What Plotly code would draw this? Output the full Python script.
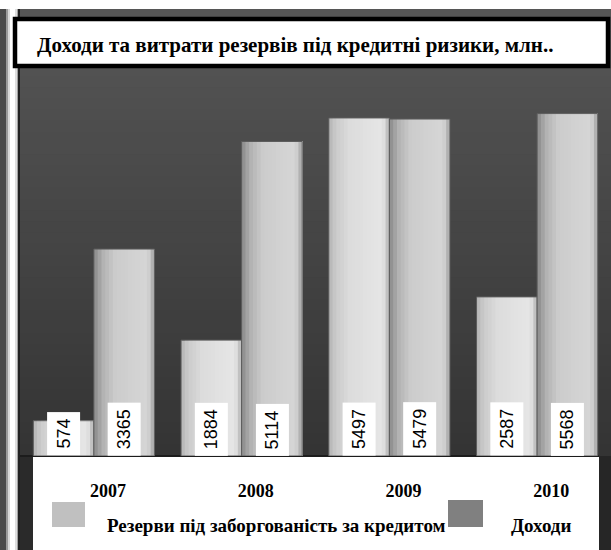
import plotly.graph_objects as go

# ---- data ----
years = ["2007", "2008", "2009", "2010"]
reserves = [574, 1884, 5497, 2587]
income = [3365, 5114, 5479, 5568]
series_names = ["Резерви під заборгованість за кредитом", "Доходи"]
legend_colors = ["#c0c0c0", "#808080"]
title_text = "Доходи та витрати резервів під кредитні ризики, млн.."

W, H = 611, 550
SERIF = "Liberation Serif, Times New Roman, serif"
SANS = "Liberation Sans, Arial, sans-serif"


def px(x):
    return x / W


def py(y):
    return 1 - y / H


def hex_mix(c1, c2, t):
    a = [int(c1[i:i + 2], 16) for i in (1, 3, 5)]
    b = [int(c2[i:i + 2], 16) for i in (1, 3, 5)]
    return "#%02x%02x%02x" % tuple(round(a[i] + (b[i] - a[i]) * t) for i in range(3))


def grad(stops, t):
    for (t0, c0), (t1, c1) in zip(stops, stops[1:]):
        if t <= t1:
            return hex_mix(c0, c1, (t - t0) / (t1 - t0) if t1 > t0 else 0)
    return stops[-1][1]


# horizontal shading of the bars, left edge to right edge
bar_stops = [
    [(0, "#b4b4b4"), (0.12, "#cbcbcb"), (0.35, "#dcdcdc"), (0.88, "#e6e6e6"), (0.95, "#d2d2d2"), (1, "#a6a6a6")],
    [(0, "#8a8a8a"), (0.15, "#b2b2b2"), (0.35, "#cccccc"), (0.88, "#d6d6d6"), (0.95, "#c2c2c2"), (1, "#969696")],
]

BAR_W = 0.41
N_STRIPS = 16
xs = list(range(len(years)))

fig = go.Figure()

for s, values in enumerate([reserves, income]):
    base = -BAR_W if s == 0 else 0.0
    for k in range(N_STRIPS):
        t = k / N_STRIPS
        fig.add_trace(go.Bar(
            x=xs, y=values,
            offset=base + t * BAR_W, width=BAR_W * (1 - t),
            marker=dict(color=grad(bar_stops[s], t + 0.5 / N_STRIPS), line=dict(width=0)),
            showlegend=False, hoverinfo="skip",
        ))
    # outline of each bar
    fig.add_trace(go.Bar(
        x=xs, y=values, offset=base, width=BAR_W,
        marker=dict(color="rgba(0,0,0,0)", line=dict(color="#5c5c5c", width=1)),
        name=series_names[s], showlegend=False,
        hovertemplate="%{y}<extra>" + series_names[s] + "</extra>",
    ))

# value labels in white boxes at the foot of each bar
annotations = []
for s, values in enumerate([reserves, income]):
    centre = -BAR_W / 2 if s == 0 else BAR_W / 2
    for i, v in enumerate(values):
        annotations.append(dict(
            x=i + centre, y=0, xref="x", yref="y",
            text=str(v), textangle=-90, showarrow=False,
            xanchor="center", yanchor="bottom",
            font=dict(family=SANS, size=18, color="#000000"),
            bgcolor="#ffffff", borderpad=6,
        ))

# title
annotations.append(dict(
    x=px(35), y=py(45), xref="paper", yref="paper",
    text="<b>" + title_text + "</b>", showarrow=False,
    xanchor="left", yanchor="middle",
    font=dict(family=SERIF, size=21, color="#000000"),
))

# legend texts
legend_text_x = [105, 509]
for s in range(2):
    annotations.append(dict(
        x=px(legend_text_x[s]), y=py(525), xref="paper", yref="paper",
        text="<b>" + series_names[s] + "</b>", showarrow=False,
        xanchor="left", yanchor="middle",
        font=dict(family=SERIF, size=19, color="#000000"),
    ))

shapes = []


def rect(x0, y0, x1, y1, fill, line_color=None, line_width=0, layer="below"):
    shapes.append(dict(
        type="rect", xref="paper", yref="paper",
        x0=px(x0), x1=px(x1), y0=py(y1), y1=py(y0),
        fillcolor=fill, line=dict(color=line_color or fill, width=line_width),
        layer=layer,
    ))


# dark frame
rect(0, 9, W, H, "#3c3c3c")
# vertical shading of the chart background
bands = 40
top, bottom = 9, 456
for b in range(bands):
    y0 = top + (bottom - top) * b / bands
    y1 = top + (bottom - top) * (b + 1) / bands + 0.5
    rect(20, y0, W, y1, hex_mix("#565656", "#343434", b / (bands - 1)))
# lower corners of the frame
rect(20, 456, 33, H, "#2a2a2a")
rect(599, 456, W, H, "#262626")
# left edge with its light rail
rect(0, 9, 7, H, "#4a4a4a")
for x0, x1, c in [(6, 8, "#9a9a9a"), (8, 10, "#d8d8d8"), (10, 15, "#ffffff"),
                  (15, 17, "#dedede"), (17, 18, "#a0a0a0"), (18, 20, "#222222")]:
    rect(x0, 9, x1, H, c)
# white panel under the bars
rect(33, 456, 599, H, "#ffffff")
# base line
shapes.append(dict(type="line", xref="paper", yref="paper",
                   x0=px(20), x1=px(599), y0=py(456), y1=py(456),
                   line=dict(color="#1c1c1c", width=2), layer="below"))
# title box
rect(15, 19, 608, 66, "#ffffff", "#000000", 4.5)
# legend swatches
rect(52, 502, 85, 527, legend_colors[0])
rect(448, 500, 483, 527, legend_colors[1])

fig.update_layout(
    width=W, height=H,
    margin=dict(l=0, r=0, t=0, b=0),
    paper_bgcolor="#ffffff",
    plot_bgcolor="rgba(0,0,0,0)",
    barmode="overlay",
    showlegend=False,
    xaxis=dict(
        domain=[px(20), 1], range=[-0.5, 3.5],
        tickmode="array", tickvals=xs, ticktext=["<b>%s</b>" % y for y in years],
        tickfont=dict(family=SERIF, size=18, color="#000000"),
        ticklabelshift=14, ticklabelstandoff=22,
        showgrid=False, zeroline=False, showline=False, ticks="",
        fixedrange=True,
    ),
    yaxis=dict(
        domain=[py(456), py(68)], range=[0, 6309],
        visible=False, fixedrange=True,
    ),
    shapes=shapes,
    annotations=annotations,
)

fig.write_html("out.html")
